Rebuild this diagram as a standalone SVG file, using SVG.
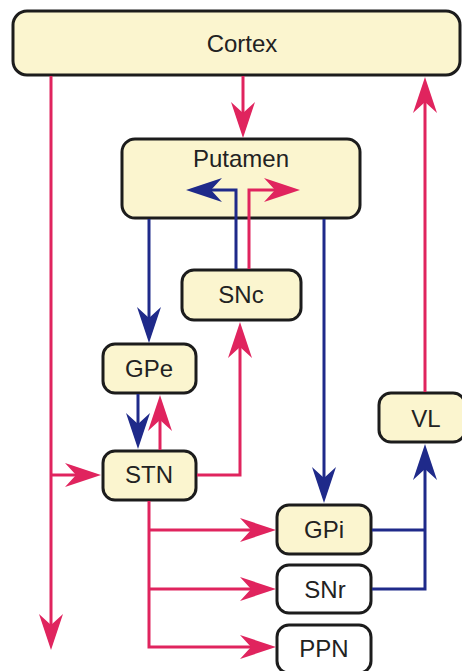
<svg xmlns="http://www.w3.org/2000/svg" width="462" height="671" viewBox="0 0 462 671">
<style>
.box{stroke:#1c1c1c;stroke-width:3}
.y{fill:#fbf5cf}
.w{fill:#ffffff}
.t{font-family:"Liberation Sans",Arial,sans-serif;font-size:24px;fill:#222;text-anchor:middle}
.r{fill:none;stroke:#e0245e;stroke-width:3}
.b{fill:none;stroke:#1f2a8a;stroke-width:3}
</style>
<defs>
<marker id="ar" markerUnits="userSpaceOnUse" viewBox="-17 -13 38 26" markerWidth="38" markerHeight="26" refX="0" refY="0" orient="auto" overflow="visible">
<path d="M20,0 L-16,-12 L-5,0 L-16,12 Z" fill="#e0245e"/>
</marker>
<marker id="ab" markerUnits="userSpaceOnUse" viewBox="-17 -13 38 26" markerWidth="38" markerHeight="26" refX="0" refY="0" orient="auto" overflow="visible">
<path d="M20,0 L-16,-12 L-5,0 L-16,12 Z" fill="#1f2a8a"/>
</marker>
</defs>
<rect width="462" height="671" fill="#ffffff"/>
<g id="cortex"><rect class="box y" x="13" y="11" width="447" height="64" rx="14"/><text class="t" x="242" y="52">Cortex</text></g>
<g id="putamen"><rect class="box y" x="122" y="139" width="238" height="79" rx="13"/><text class="t" x="241" y="167">Putamen</text></g>
<g id="snc"><rect class="box y" x="182" y="270" width="119" height="50" rx="12"/><text class="t" x="241" y="303">SNc</text></g>
<g id="gpe"><rect class="box y" x="103" y="344" width="93" height="49" rx="12"/><text class="t" x="149" y="377">GPe</text></g>
<g id="stn"><rect class="box y" x="103" y="451" width="93" height="49" rx="12"/><text class="t" x="149" y="483">STN</text></g>
<g id="vl"><rect class="box y" x="379" y="393" width="86" height="49" rx="12"/><text class="t" x="426" y="427">VL</text></g>
<g id="gpi"><rect class="box y" x="277" y="505" width="94" height="49" rx="12"/><text class="t" x="324" y="538">GPi</text></g>
<g id="snr"><rect class="box w" x="277" y="565" width="94" height="48" rx="12"/><text class="t" x="325" y="598">SNr</text></g>
<g id="ppn"><rect class="box w" x="277" y="625" width="94" height="48" rx="12"/><text class="t" x="324" y="657">PPN</text></g>
<g id="connectors">
<path class="r" d="M243,76 V118" marker-end="url(#ar)"/>
<path class="r" d="M51,76 V630" marker-end="url(#ar)"/>
<path class="r" d="M51,475 H81" marker-end="url(#ar)"/>
<path class="b" d="M149,219 V323" marker-end="url(#ab)"/>
<path class="b" d="M324,219 V483" marker-end="url(#ab)"/>
<path class="b" d="M236,269 V190 H206" marker-end="url(#ab)"/>
<path class="r" d="M249,269 V190 H280" marker-end="url(#ar)"/>
<path class="b" d="M138,394 V429" marker-end="url(#ab)"/>
<path class="r" d="M160,450 V415" marker-end="url(#ar)"/>
<path class="r" d="M197,475 H240 V342" marker-end="url(#ar)"/>
<path class="r" d="M149,501 V647 H256" marker-end="url(#ar)"/>
<path class="r" d="M149,530 H256" marker-end="url(#ar)"/>
<path class="r" d="M149,589 H256" marker-end="url(#ar)"/>
<path class="b" d="M372,530 H425"/>
<path class="b" d="M372,589 H425 V464" marker-end="url(#ab)"/>
<path class="r" d="M425,392 V97" marker-end="url(#ar)"/>
</g>
</svg>
